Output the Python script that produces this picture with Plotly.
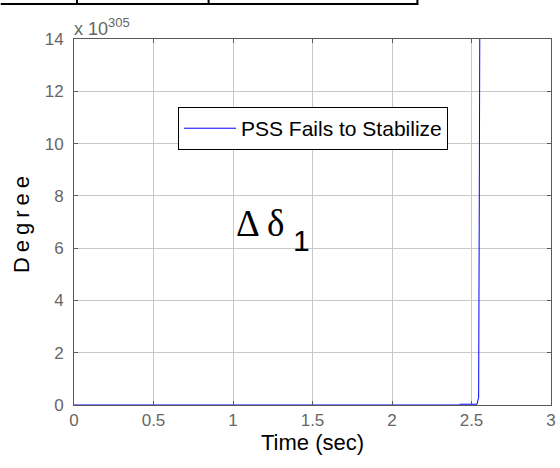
import plotly.graph_objects as go

# Data (values in units of 10^305 degrees)
time_s = [0, 0.5, 1.0, 1.5, 2.0, 2.42, 2.43, 2.535, 2.545, 2.552, 2.56]
delta_deg = [0, 0, 0, 0, 0, 0, 0.03, 0.03, 0.3, 14, 40]
x_ticks = [0, 0.5, 1, 1.5, 2, 2.5, 3]
x_ticktext = ["0", "0.5", "1", "1.5", "2", "2.5", "3"]
y_ticks = [0, 2, 4, 6, 8, 10, 12, 14]
series_name = "PSS Fails to Stabilize"

FONT = "Liberation Sans, Arial, sans-serif"
SERIF = "Liberation Serif, Times New Roman, serif"
AXIS_COL = "#5a5a5a"
TICK_COL = "#666666"
GRID_COL = "#c8c8c8"

fig = go.Figure()
fig.add_trace(go.Scatter(
    x=time_s, y=delta_deg, mode="lines", name=series_name,
    line=dict(color="#0000ff", width=1),
    showlegend=True,
))

axis_common = dict(
    showgrid=True, gridcolor=GRID_COL, gridwidth=1,
    showline=True, linecolor=AXIS_COL, linewidth=1, mirror="ticks",
    ticks="inside", ticklen=4, tickcolor=AXIS_COL,
    zeroline=False,
    ticklabeloverflow="allow",
    tickfont=dict(family=FONT, size=17, color=TICK_COL),
)

fig.update_xaxes(
    range=[0, 3], tickvals=x_ticks, ticktext=x_ticktext,
    title=dict(text="Time (sec)", font=dict(family=FONT, size=22, color="black"), standoff=4),
    **axis_common,
)
fig.update_yaxes(
    range=[0, 14], tickvals=y_ticks, ticklabelstandoff=6,
    title=dict(text="<span style='letter-spacing:5px'>Degree</span>",
               font=dict(family=FONT, size=22, color="black"), standoff=8),
    **axis_common,
)

anchor_x, anchor_y = 1.17, 6.96

fig.update_layout(
    width=560, height=468,
    margin=dict(l=74, r=4, t=39, b=63),
    paper_bgcolor="white", plot_bgcolor="white",
    font=dict(family=FONT),
    legend=dict(
        x=0.218, y=0.814, xanchor="left", yanchor="top",
        bgcolor="white", bordercolor="black", borderwidth=1,
        font=dict(family=FONT, size=21, color="black"),
        itemwidth=52,
    ),
    annotations=[
        dict(
            text="x 10<sup><span style='font-size:13px'>305</span></sup>", xref="paper", yref="paper",
            x=0.0, y=1.0, xanchor="left", yanchor="bottom", showarrow=False,
            font=dict(family=FONT, size=18, color=TICK_COL), xshift=-2, yshift=-2,
        ),
        dict(
            text="Δ δ", xref="x", yref="y", x=anchor_x, y=anchor_y, showarrow=False,
            font=dict(family=SERIF, size=37, color="black"),
        ),
        dict(
            text="1", xref="x", yref="y", x=anchor_x, y=anchor_y, showarrow=False,
            xshift=41, yshift=-17,
            font=dict(family=FONT, size=30, color="black"),
        ),
    ],
    shapes=[
        dict(type="line", xref="paper", yref="paper", x0=(0 - 74) / 482, x1=(422 - 74) / 482,
             y0=(405 - 4) / 366, y1=(405 - 4) / 366, line=dict(color="black", width=2)),
        dict(type="line", xref="paper", yref="paper", x0=(77 - 74) / 482, x1=(77 - 74) / 482,
             y0=(405 - 4) / 366, y1=(405 + 2) / 366, line=dict(color="black", width=2)),
        dict(type="line", xref="paper", yref="paper", x0=(210 - 74) / 482, x1=(210 - 74) / 482,
             y0=(405 - 4) / 366, y1=(405 + 2) / 366, line=dict(color="black", width=2)),
        dict(type="line", xref="paper", yref="paper", x0=(421 - 74) / 482, x1=(421 - 74) / 482,
             y0=(405 - 4) / 366, y1=(405 + 2) / 366, line=dict(color="black", width=2)),
    ],
)

fig.write_html("out.html")
